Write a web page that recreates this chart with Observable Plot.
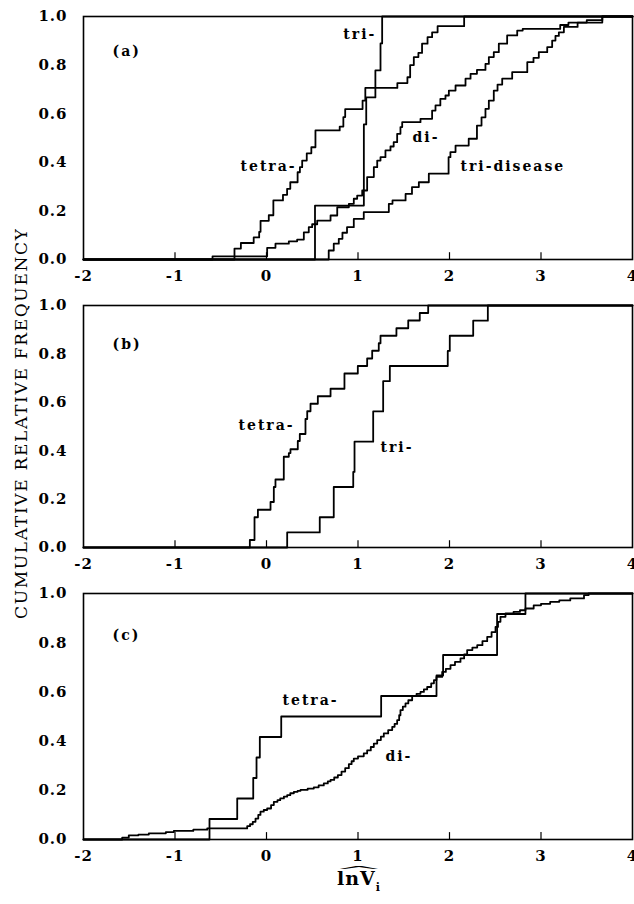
<!DOCTYPE html>
<html><head><meta charset="utf-8">
<script src="https://cdn.jsdelivr.net/npm/d3@7"></script>
<script src="https://cdn.jsdelivr.net/npm/@observablehq/plot@0.6"></script>
<style>
html,body{margin:0;padding:0;background:#fff;}
#wrap{position:relative;width:634px;height:904px;overflow:hidden;background:#fff;}
.panel{position:absolute;left:0;}
#overlay{position:absolute;left:0;top:0;pointer-events:none;}
</style></head><body><div id="wrap"></div>
<script>
// ---- axes ----
const xTicks = [-2, -1, 0, 1, 2, 3, 4];
const yTicks = [0, 0.2, 0.4, 0.6, 0.8, 1.0];
const yTitle = "CUMULATIVE RELATIVE FREQUENCY";

// ---- panel (a) ----
const aTetraX = [-0.35,-0.28,-0.14,-0.08,-0.065,0.025,0.075,0.18,0.225,0.26,0.34,0.365,0.39,0.44,0.49,0.535,0.80,0.84,0.86,1.05,1.08,1.43,1.54,1.57,1.61,1.66,1.70,1.76,1.81,1.87,2.16];
const aTetraY = [0.045,0.068,0.091,0.114,0.159,0.182,0.243,0.266,0.291,0.318,0.359,0.38,0.407,0.437,0.462,0.531,0.547,0.586,0.619,0.654,0.706,0.726,0.75,0.80,0.833,0.85,0.888,0.915,0.935,0.96,1.0];
const aTriX = [0.53,1.064,1.09,1.19,1.246,1.264];
const aTriY = [0.222,0.556,0.667,0.778,0.889,1.0];
const aDiX = [-0.59,0.007,0.098,0.244,0.335,0.408,0.462,0.499,0.554,0.70,0.773,0.90,0.954,0.991,1.046,1.10,1.173,1.21,1.246,1.30,1.355,1.39,1.428,1.464,1.483,1.683,1.81,1.847,1.90,1.956,1.993,2.066,2.175,2.23,2.30,2.393,2.43,2.484,2.539,2.63,2.74,2.80,3.21,3.30,3.50,3.67];
const aDiY = [0.013,0.048,0.065,0.075,0.082,0.112,0.133,0.145,0.16,0.181,0.215,0.229,0.25,0.263,0.284,0.339,0.38,0.407,0.421,0.449,0.465,0.483,0.517,0.545,0.565,0.579,0.613,0.634,0.661,0.675,0.695,0.716,0.744,0.764,0.78,0.805,0.833,0.853,0.888,0.922,0.942,0.949,0.965,0.975,0.985,1.0];
const aTriDisX = [0.68,0.735,0.79,0.83,0.88,0.954,1.063,1.337,1.377,1.52,1.59,1.665,1.774,1.99,2.01,2.066,2.21,2.30,2.35,2.393,2.43,2.484,2.525,2.576,2.685,2.85,2.918,2.976,3.068,3.122,3.158,3.195,3.25,3.40,3.67];
const aTriDisY = [0.037,0.065,0.085,0.11,0.133,0.167,0.195,0.229,0.243,0.27,0.298,0.318,0.353,0.421,0.442,0.469,0.497,0.551,0.585,0.62,0.654,0.695,0.72,0.744,0.771,0.812,0.83,0.853,0.874,0.901,0.92,0.935,0.957,0.975,1.0];
const aLabelText = ["(a)","tri-","tetra-","di-","tri-disease"];
const aLabelX = [-1.683,0.84,-0.284,1.596,2.12];
const aLabelY = [0.854,0.926,0.383,0.50,0.383];

// ---- panel (b) ----
const bTetraX = [-0.182,-0.131,-0.094,0.044,0.08,0.098,0.189,0.244,0.262,0.342,0.364,0.426,0.445,0.481,0.561,0.70,0.852,0.998,1.10,1.155,1.227,1.246,1.42,1.549,1.675,1.767];
const bTetraY = [0.031,0.125,0.156,0.188,0.25,0.281,0.375,0.39,0.406,0.44,0.469,0.531,0.563,0.594,0.625,0.656,0.719,0.75,0.781,0.813,0.844,0.875,0.906,0.938,0.969,1.0];
const bTriX = [0.226,0.582,0.735,0.948,0.962,1.166,1.275,1.348,1.981,2.003,2.259,2.419];
const bTriY = [0.0625,0.125,0.25,0.3125,0.4375,0.5625,0.6875,0.75,0.8125,0.875,0.9375,1.0];
const bLabelText = ["(b)","tetra-","tri-"];
const bLabelX = [-1.683,-0.306,1.246];
const bLabelY = [0.839,0.504,0.413];

// ---- panel (c) ----
const cTetraX = [-0.623,-0.32,-0.145,-0.109,-0.073,0.161,1.253,1.858,1.93,2.52,2.83];
const cTetraY = [0.0833,0.1667,0.25,0.3333,0.4167,0.5,0.5833,0.6667,0.75,0.9167,1.0];
const cDiX = [-1.577,-1.505,-1.40,-1.286,-1.10,-1.013,-0.80,-0.648,-0.211,-0.18,-0.15,-0.12,-0.09,-0.066,-0.03,0.007,0.05,0.08,0.12,0.15,0.19,0.226,0.26,0.299,0.34,0.372,0.45,0.517,0.57,0.626,0.67,0.70,0.74,0.78,0.82,0.86,0.90,0.93,0.954,1.00,1.063,1.10,1.14,1.173,1.21,1.25,1.282,1.33,1.374,1.40,1.428,1.45,1.464,1.49,1.519,1.55,1.592,1.64,1.683,1.72,1.756,1.80,1.83,1.858,1.92,1.96,2.011,2.06,2.12,2.16,2.193,2.25,2.303,2.36,2.412,2.46,2.503,2.53,2.557,2.612,2.70,2.77,2.83,2.92,3.00,3.10,3.20,3.32,3.47,3.52];
const cDiY = [0.008,0.017,0.02,0.025,0.03,0.035,0.04,0.045,0.054,0.062,0.072,0.085,0.10,0.113,0.12,0.126,0.14,0.153,0.16,0.167,0.174,0.18,0.188,0.194,0.198,0.202,0.207,0.212,0.22,0.228,0.236,0.242,0.252,0.262,0.276,0.29,0.306,0.318,0.329,0.338,0.35,0.362,0.376,0.39,0.404,0.418,0.431,0.445,0.458,0.47,0.485,0.505,0.526,0.54,0.553,0.566,0.583,0.592,0.60,0.61,0.62,0.635,0.648,0.661,0.681,0.694,0.709,0.722,0.736,0.752,0.77,0.78,0.79,0.806,0.824,0.843,0.864,0.885,0.905,0.919,0.925,0.932,0.939,0.952,0.958,0.966,0.972,0.98,0.993,1.0];
const cLabelText = ["(c)","tetra-","di-"];
const cLabelX = [-1.683,0.175,1.30];
const cLabelY = [0.83,0.566,0.339];

// ---- helpers ----
function stepRows(name, xs, ys) {
  const rows = [{s: name, x: xTicks[0], y: 0}];
  xs.forEach((x, i) => rows.push({s: name, x, y: ys[i]}));
  rows.push({s: name, x: xTicks[xTicks.length - 1], y: ys[ys.length - 1]});
  return rows;
}
function labelRows(t, xs, ys) { return t.map((d, i) => ({t: d, x: xs[i], y: ys[i]})); }

const panels = [
  {top: 0, mt: 16, ph: 243, rows: [
      ...stepRows("tetra", aTetraX, aTetraY), ...stepRows("tri", aTriX, aTriY),
      ...stepRows("di", aDiX, aDiY), ...stepRows("tridis", aTriDisX, aTriDisY)],
    labels: labelRows(aLabelText, aLabelX, aLabelY)},
  {top: 289, mt: 16, ph: 242, rows: [
      ...stepRows("tetra", bTetraX, bTetraY), ...stepRows("tri", bTriX, bTriY)],
    labels: labelRows(bLabelText, bLabelX, bLabelY)},
  {top: 577, mt: 16, ph: 246, rows: [
      ...stepRows("tetra", cTetraX, cTetraY), ...stepRows("di", cDiX, cDiY)],
    labels: labelRows(cLabelText, cLabelX, cLabelY)}
];

const wrap = document.getElementById("wrap");
const FONT = "'DejaVu Serif', 'Liberation Serif', serif";

panels.forEach(p => {
  const mb = 30;
  const chart = Plot.plot({
    width: 634,
    height: p.mt + p.ph + mb,
    marginLeft: 83, marginRight: 2, marginTop: p.mt, marginBottom: mb,
    style: {fontFamily: FONT, fontSize: "15px", fontWeight: "bold", color: "#000", background: "#fff", letterSpacing: "1px", overflow: "visible"},
    x: {domain: [xTicks[0], xTicks[xTicks.length - 1]]},
    y: {domain: [0, 1]},
    marks: [
      Plot.axisX(xTicks, {tickSize: 0, tickPadding: 11, tickFormat: d => String(d), label: null}),
      Plot.axisY(yTicks, {tickSize: 0, tickPadding: 16, tickFormat: d3.format(".1f"), label: null}),
      Plot.ruleX(xTicks.slice(1, -1), {y1: 0, y2: 0.028, stroke: "#000", strokeWidth: 1.2}),
      Plot.line(p.rows, {x: "x", y: "y", z: "s", curve: "step-after", stroke: "#000", strokeWidth: 1.8}),
      Plot.frame({stroke: "#000", strokeWidth: 1.6}),
      Plot.text(p.labels, {x: "x", y: "y", text: "t", textAnchor: "start", fontSize: 14, fontWeight: "bold", fill: "#000"})
    ]
  });
  chart.classList.add("panel");
  chart.style.top = p.top + "px";
  chart.querySelectorAll("g[aria-label='text'] text").forEach(t => t.style.letterSpacing = "2px");
  wrap.appendChild(chart);
});

// overlay: axis titles
const NS = "http://www.w3.org/2000/svg";
const ov = document.createElementNS(NS, "svg");
ov.setAttribute("id", "overlay");
ov.setAttribute("width", 634); ov.setAttribute("height", 904);
ov.innerHTML = `
  <text transform="translate(27,424) rotate(-90)" text-anchor="middle" textLength="390" lengthAdjust="spacing"
        font-family="${FONT}" font-size="17" fill="#000">${yTitle}</text>
  <text x="337" y="885" font-family="${FONT}" font-size="19" font-weight="bold" letter-spacing="1" fill="#000">lnV<tspan dx="0" dy="6" font-size="11">i</tspan></text>
  <text transform="translate(359,874) scale(3.4,0.6)" text-anchor="middle" font-family="${FONT}" font-size="18" fill="#000">^</text>
`;
wrap.appendChild(ov);
</script>
</body></html>
